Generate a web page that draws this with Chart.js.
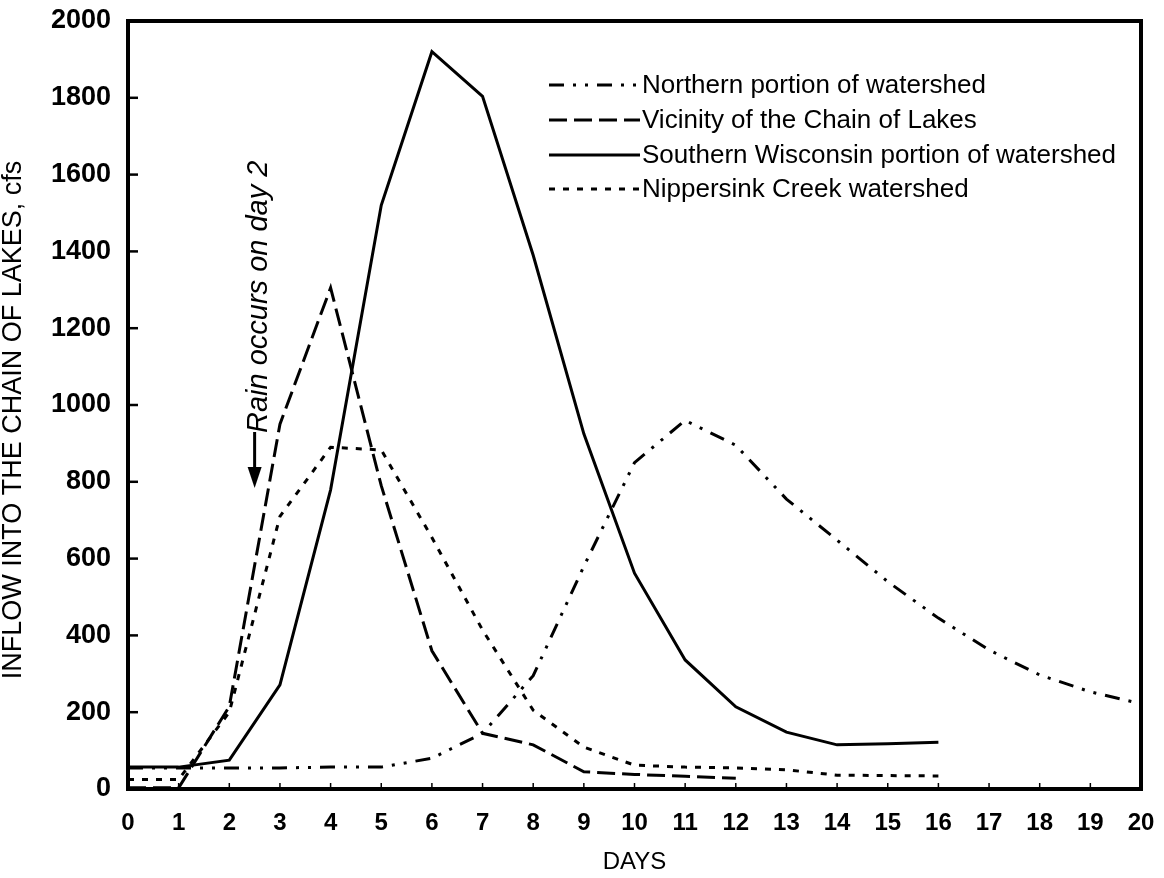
<!DOCTYPE html>
<html>
<head>
<meta charset="utf-8">
<script src="https://cdn.jsdelivr.net/npm/chart.js@4.4.0/dist/chart.umd.min.js"></script>
<style>
  html, body { margin: 0; padding: 0; background: #fff; }
  #wrap { width: 1164px; height: 878px; }
</style>
</head>
<body>
<div id="wrap"><canvas id="line_chart" width="1164" height="878"></canvas></div>
<script>
var days = [0, 1, 2, 3, 4, 5, 6, 7, 8, 9, 10, 11, 12, 13, 14, 15, 16, 17, 18, 19, 20];
var xTicks = [0, 1, 2, 3, 4, 5, 6, 7, 8, 9, 10, 11, 12, 13, 14, 15, 16, 17, 18, 19, 20];
var yTicks = [0, 200, 400, 600, 800, 1000, 1200, 1400, 1600, 1800, 2000];

var seriesNames = [
  "Northern portion of watershed",
  "Vicinity of the Chain of Lakes",
  "Southern Wisconsin portion of watershed",
  "Nippersink Creek watershed"
];
var northern = [55, 55, 55, 55, 57, 57, 80, 145, 295, 580, 850, 960, 895, 755, 648, 540, 445, 362, 297, 253, 222];
var vicinity = [3, 3, 215, 950, 1305, 790, 360, 145, 115, 45, 38, 33, 28];
var southern = [57, 57, 75, 271, 779, 1520, 1920, 1804, 1390, 925, 562, 336, 214, 148, 115, 118, 122];
var nippersink = [25, 25, 200, 710, 890, 883, 655, 414, 205, 109, 62, 57, 55, 50, 36, 35, 34];

var yTitle = "INFLOW INTO THE CHAIN OF LAKES, cfs";
var xTitle = "DAYS";
var rainNote = "Rain occurs on day 2";
var rainDay = 2.5;

var dashes = [[15, 9, 3, 9, 3, 9], [18, 7], [], [6, 8]];
var font = "'Liberation Sans', Arial, Helvetica, sans-serif";

function toPoints(values) {
  return values.map(function (v, i) { return { x: days[i], y: v }; });
}

// frame, inward ticks, y title, legend and the rain arrow
var extras = {
  id: 'extras',
  afterDatasetsDraw: function (chart) {
    var ctx = chart.ctx;
    var a = chart.chartArea;
    var xs = chart.scales.x, ys = chart.scales.y;
    ctx.save();
    ctx.strokeStyle = '#000';
    ctx.fillStyle = '#000';

    ctx.lineWidth = 2.5;
    for (var i = 0; i < yTicks.length; i++) {
      var py = ys.getPixelForValue(yTicks[i]);
      ctx.beginPath(); ctx.moveTo(a.left, py); ctx.lineTo(a.left + 10, py); ctx.stroke();
    }
    ctx.lineWidth = 1.5;
    for (var j = 0; j < xTicks.length; j++) {
      var px = xs.getPixelForValue(xTicks[j]);
      ctx.beginPath(); ctx.moveTo(px, a.bottom); ctx.lineTo(px, a.bottom - 6); ctx.stroke();
    }

    ctx.lineWidth = 4;
    ctx.strokeRect(a.left, a.top, a.right - a.left, a.bottom - a.top);

    // y axis title, sits a little below the axis middle
    ctx.save();
    ctx.translate(14, 420);
    ctx.rotate(-Math.PI / 2);
    ctx.font = '27px ' + font;
    ctx.textAlign = 'center';
    ctx.textBaseline = 'middle';
    ctx.fillText(yTitle, 0, 0);
    ctx.restore();

    // legend
    var rows = [85, 120, 155, 189];
    ctx.font = '26px ' + font;
    ctx.textBaseline = 'middle';
    ctx.textAlign = 'left';
    chart.data.datasets.forEach(function (ds, k) {
      ctx.lineWidth = 3;
      ctx.setLineDash(ds.borderDash || []);
      ctx.beginPath(); ctx.moveTo(549, rows[k]); ctx.lineTo(640, rows[k]); ctx.stroke();
      ctx.setLineDash([]);
      ctx.fillText(ds.label, 642, rows[k] + 1);
    });

    // rain arrow and note
    var ax = xs.getPixelForValue(rainDay);
    ctx.lineWidth = 3;
    ctx.beginPath(); ctx.moveTo(ax, 432); ctx.lineTo(ax, 470); ctx.stroke();
    ctx.beginPath(); ctx.moveTo(ax - 7, 467); ctx.lineTo(ax + 7, 467); ctx.lineTo(ax, 488); ctx.closePath(); ctx.fill();
    ctx.translate(ax + 12, 433);
    ctx.rotate(-Math.PI / 2);
    ctx.font = 'italic 29px ' + font;
    ctx.textBaseline = 'alphabetic';
    ctx.fillText(rainNote, 0, 0);
    ctx.restore();
  }
};

var chart = new Chart(document.getElementById("line_chart").getContext("2d"), {
  type: "line",
  data: {
    datasets: [
      { label: seriesNames[0], data: toPoints(northern), borderDash: dashes[0] },
      { label: seriesNames[1], data: toPoints(vicinity), borderDash: dashes[1] },
      { label: seriesNames[2], data: toPoints(southern), borderDash: dashes[2] },
      { label: seriesNames[3], data: toPoints(nippersink), borderDash: dashes[3] }
    ].map(function (d) {
      d.borderColor = '#000';
      d.backgroundColor = '#000';
      d.borderWidth = 3;
      d.pointRadius = 0;
      d.tension = 0;
      d.fill = false;
      return d;
    })
  },
  options: {
    responsive: false,
    animation: false,
    layout: { padding: { left: 0, top: 21, right: 23, bottom: 0 } },
    plugins: { legend: { display: false }, tooltip: { enabled: false } },
    scales: {
      x: {
        type: 'linear', min: 0, max: 20,
        afterBuildTicks: function (s) { s.ticks = xTicks.map(function (v) { return { value: v }; }); },
        afterFit: function (s) { s.height = 89; s.paddingLeft = 0; s.paddingRight = 0; },
        grid: { display: false, drawTicks: false },
        border: { display: false },
        ticks: { color: '#000', padding: 20, maxRotation: 0, autoSkip: false, font: { family: font, size: 24, weight: 'bold' } },
        title: { display: true, text: xTitle, color: '#000', padding: { top: 0, bottom: 1 }, font: { family: font, size: 24 } }
      },
      y: {
        min: 0, max: 2000,
        afterBuildTicks: function (s) { s.ticks = yTicks.map(function (v) { return { value: v }; }); },
        afterFit: function (s) { s.width = 128; s.paddingTop = 0; s.paddingBottom = 0; },
        grid: { display: false, drawTicks: false },
        border: { display: false },
        ticks: {
          color: '#000', padding: 17,
          font: { family: font, size: 27, weight: 'bold' },
          callback: function (v) { return String(v); }
        },
        title: { display: false }
      }
    }
  },
  plugins: [extras]
});
</script>
</body>
</html>
